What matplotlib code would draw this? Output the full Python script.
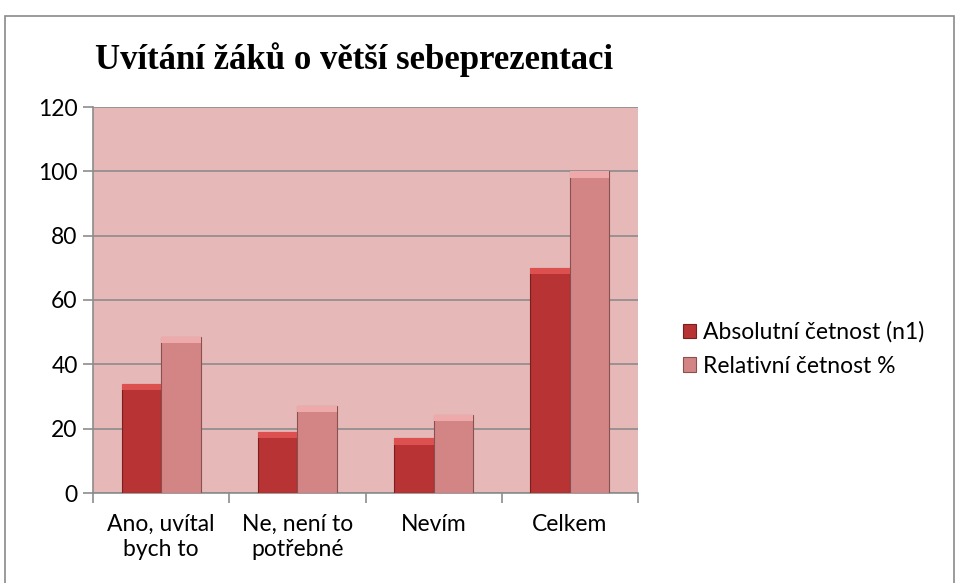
import numpy as np
import matplotlib.pyplot as plt
from matplotlib.patches import Rectangle

categories = ["Ano, uvítal\nbych to", "Ne, není to\npotřebné", "Nevím", "Celkem"]
absolutni = [34, 19, 17, 70]
relativni = [48.6, 27.1, 24.3, 100]
series_names = ["Absolutní četnost (n1)", "Relativní četnost %"]

fig = plt.figure(figsize=(9.56, 5.83), dpi=100)
fig.patches.append(Rectangle((5 / 956, -0.01), 0.998 - 5 / 956, 1 - 16 / 583 + 0.01,
                             transform=fig.transFigure, fill=False,
                             edgecolor="#8a8a8a", linewidth=1.2))

ax = fig.add_axes([93 / 956, 1 - 493 / 583, 545 / 956, 386 / 583])
ax.set_facecolor("#e6b9b8")

x = np.arange(len(categories))
w = 0.29
b1 = ax.bar(x - w / 2, absolutni, w, color="#b83333", edgecolor="#7a1f1f",
            linewidth=0.8, label=series_names[0], zorder=3)
b2 = ax.bar(x + w / 2, relativni, w, color="#d38585", edgecolor="#8a4f4f",
            linewidth=0.8, label=series_names[1], zorder=3)

# lighter bevel on top of each bar
for bars, top in ((b1, "#dc5050"), (b2, "#eeaaaa")):
    for r in bars:
        ax.add_patch(Rectangle((r.get_x(), r.get_height() - 2.0), r.get_width(), 2.0,
                               facecolor=top, edgecolor="none", zorder=4))

ax.set_xlim(-0.5, 3.5)
ax.set_ylim(0, 120)
ax.set_yticks(range(0, 121, 20))
ax.yaxis.grid(True, color="#8c8c8c", linewidth=1.2, zorder=1)
ax.set_axisbelow(True)

ax.set_xticks(x)
ax.set_xticklabels(categories, linespacing=1.25)
ax.set_xticks(np.arange(-0.5, 4, 1), minor=True)
ax.tick_params(axis="x", which="major", length=0, pad=15)
ax.tick_params(axis="x", which="minor", length=7, color="#8c8c8c", width=1.2)
ax.tick_params(axis="y", length=7, color="#8c8c8c", width=1.2, pad=4)
for lab in ax.get_xticklabels() + ax.get_yticklabels():
    lab.set_fontfamily("Lato")
    lab.set_fontsize(16.5)

for s in ("top", "right"):
    ax.spines[s].set_visible(False)
for s in ("left", "bottom"):
    ax.spines[s].set_color("#8c8c8c")
    ax.spines[s].set_linewidth(1.2)

fig.text(95 / 956, 1 - 60 / 583, "Uvítání žáků o větší sebeprezentaci",
         fontfamily="Liberation Serif", fontweight="bold", fontsize=25,
         va="center", ha="left")

fig.legend(handles=[b1, b2], labels=series_names, loc="center left",
           bbox_to_anchor=(662 / 956, 1 - 349 / 583), frameon=False,
           prop={"family": "Lato", "size": 16.5}, handlelength=0.6,
           handleheight=0.6, handletextpad=0.3, labelspacing=0.55)

fig.savefig("out.png", dpi=100)
